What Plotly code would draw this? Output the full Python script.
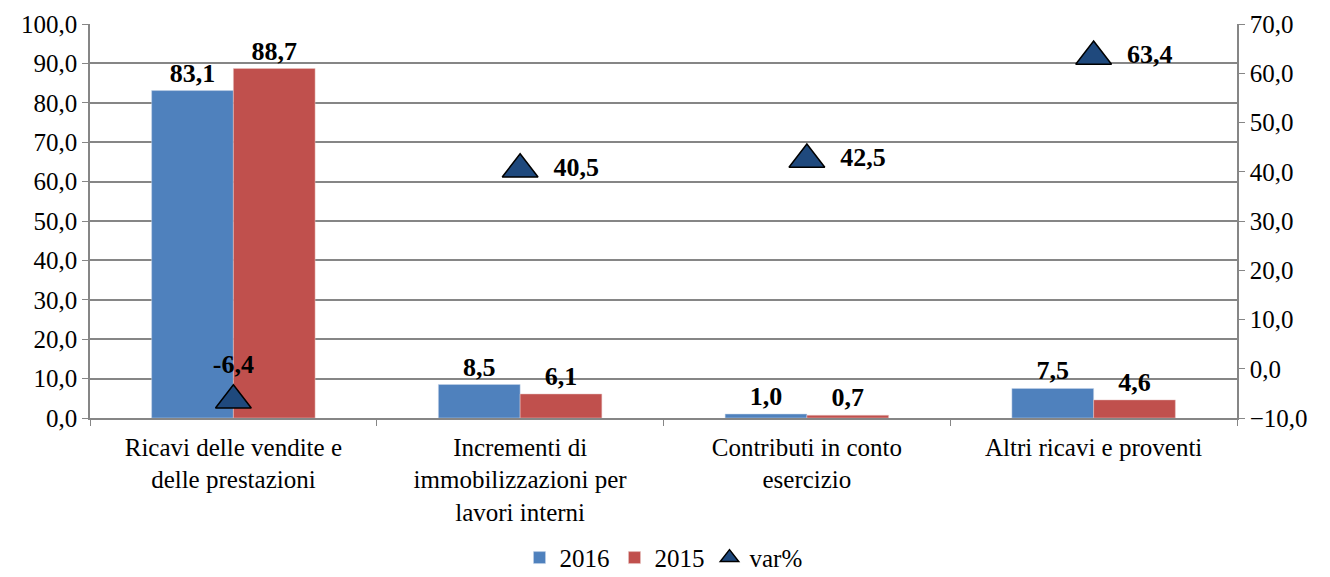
import plotly.graph_objects as go

categories = ["Ricavi delle vendite e<br>delle prestazioni",
              "Incrementi di<br>immobilizzazioni per<br>lavori interni",
              "Contributi in conto<br>esercizio",
              "Altri ricavi e proventi"]
v2016 = [83.1, 8.5, 1.0, 7.5]
v2015 = [88.7, 6.1, 0.7, 4.6]
var_pct = [-6.4, 40.5, 42.5, 63.4]
var_pos = ["top center", "middle right", "middle right", "middle right"]

FONT = "Liberation Serif"
lab_font = dict(family=FONT, size=26, color="black")

def fmt(v):
    return f"{v:.1f}".replace(".", ",")

fig = go.Figure()
fig.add_trace(go.Bar(x=categories, y=v2016, name="2016", marker_color="#4F81BD",
                     marker_line=dict(color="#C6D4E8", width=0.5),
                     text=[f"<b>{fmt(v)}</b>" for v in v2016],
                     textposition="outside", textfont=lab_font, cliponaxis=False))
fig.add_trace(go.Bar(x=categories, y=v2015, name="2015", marker_color="#C0504D",
                     marker_line=dict(color="#E8C6C5", width=0.5),
                     text=[f"<b>{fmt(v)}</b>" for v in v2015],
                     textposition="outside", textfont=lab_font, cliponaxis=False))
fig.add_trace(go.Scatter(x=categories, y=var_pct, name="var%", yaxis="y2", mode="markers+text",
                         marker=dict(symbol="triangle-up", size=31, color="#1F497D",
                                     line=dict(color="black", width=1.5)),
                         text=[("<b>  " + fmt(v) + "</b>") if p != "top center"
                               else ("<b>" + fmt(v) + "</b>")
                               for v, p in zip(var_pct, var_pos)],
                         textposition=var_pos, textfont=lab_font, cliponaxis=False))

fig.update_layout(
    width=1330, height=577,
    margin=dict(l=90, r=93, t=24, b=159, autoexpand=False),
    plot_bgcolor="white", paper_bgcolor="white",
    separators=",.",
    barmode="group", bargap=0.43, bargroupgap=0,
    font=dict(family=FONT, size=24, color="black"),
    xaxis=dict(type="category", showline=True, linecolor="#868686", linewidth=1.5,
               ticks="outside", tickson="boundaries", ticklen=6, tickcolor="#868686",
               tickfont=dict(size=25), showgrid=False, automargin=False,
               ticklabelstandoff=6),
    yaxis=dict(range=[0, 100], dtick=10, tickformat=".1f", showline=True, linecolor="#868686",
               linewidth=1.5, ticks="outside", ticklen=6, tickcolor="#868686",
               gridcolor="#868686", gridwidth=1.5, tickfont=dict(size=25), zeroline=False,
               automargin=False),
    yaxis2=dict(range=[-10, 70], dtick=10, tickformat=".1f", overlaying="y", side="right",
                showline=True, linecolor="#868686", linewidth=1.5, ticks="outside", ticklen=6,
                tickcolor="#868686", showgrid=False, zeroline=False, tickfont=dict(size=25),
                automargin=False),
    legend=dict(orientation="h", x=0.5, xanchor="center", y=-0.355, yanchor="middle",
                font=dict(size=25), itemwidth=30, tracegroupgap=0),
)
fig.write_html("out.html", config={"displayModeBar": False},
               post_script="document.body.style.margin='0';")
